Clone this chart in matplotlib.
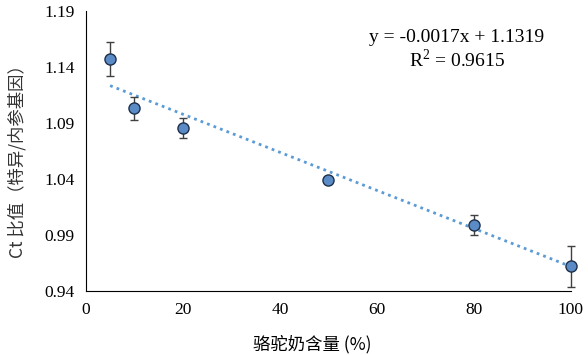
import numpy as np
import matplotlib.pyplot as plt

# 数据
camel_milk = [5, 10, 20, 50, 80, 100]
ct_ratio = [1.147, 1.103, 1.0855, 1.039, 0.999, 0.962]
ct_err = [0.015, 0.010, 0.009, 0.001, 0.009, 0.018]
slope, intercept = -0.0017, 1.1319
r2 = 0.9615

x_ticks = [0, 20, 40, 60, 80, 100]
y_ticks = [0.94, 0.99, 1.04, 1.09, 1.14, 1.19]

plt.rcParams['font.family'] = ['Liberation Serif', 'Noto Sans CJK SC']
plt.rcParams['mathtext.fontset'] = 'custom'
plt.rcParams['mathtext.rm'] = 'Liberation Serif'

fig = plt.figure(figsize=(5.88, 3.55), dpi=100)
ax = fig.add_axes([0.146, 0.180, 0.825, 0.789])

# 趋势线
xs = np.array([min(camel_milk), max(camel_milk)])
ax.plot(xs, slope * xs + intercept, linestyle=(0, (1, 1.5)), color='#5B9BD5',
        linewidth=2, zorder=1)

# 数据点和误差线
ax.errorbar(camel_milk, ct_ratio, yerr=ct_err, fmt='o', markersize=8,
            markerfacecolor='#5B8BC6', markeredgecolor='#1F2F4A', markeredgewidth=1,
            ecolor='#404040', elinewidth=1, capsize=3, capthick=1, zorder=2,
            clip_on=False)

ax.set_xlim(0, 100)
ax.set_ylim(0.94, 1.19)
ax.set_xticks(x_ticks)
ax.set_yticks(y_ticks)
ax.set_yticklabels([f'{v:.2f}' for v in y_ticks])
ax.tick_params(length=0, labelsize=12.5, pad=8)
for s in ['top', 'right']:
    ax.spines[s].set_visible(False)

ax.set_xlabel('骆驼奶含量 (%)', fontsize=12.5,
              family=['Noto Sans CJK SC', 'Liberation Serif'], labelpad=4)
ax.xaxis.set_label_coords(0.466, -0.155)
ax.set_ylabel('Ct 比值（特异/内参基因）', fontsize=12.5, color='#333333',
              family=['Noto Sans CJK SC', 'DejaVu Sans'])
ax.yaxis.set_label_coords(-0.122, 0.479)

ax.text(0.765, 0.905, f'y = {slope:.4f}x + {intercept:.4f}', transform=ax.transAxes,
        fontsize=14, ha='center', va='center')
ax.text(0.765, 0.825, f'R$^\\mathrm{{2}}$ = {r2:.4f}', transform=ax.transAxes,
        fontsize=14, ha='center', va='center')

fig.savefig('out.png', dpi=100)
